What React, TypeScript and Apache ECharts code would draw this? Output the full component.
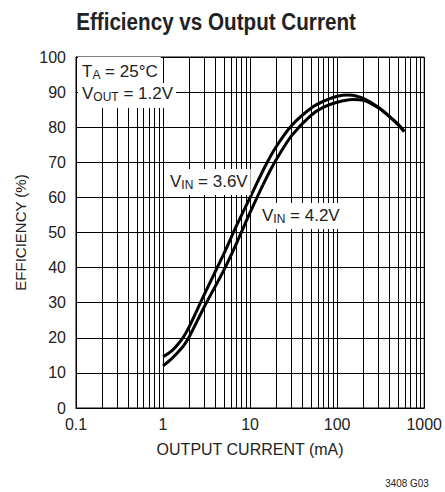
import React, { useEffect, useRef } from "react";
import * as echarts from "echarts";

const xTickLabels = ["0.1", "1", "10", "100", "1000"];
const yTicks = [0, 10, 20, 30, 40, 50, 60, 70, 80, 90, 100];

// VIN = 3.6V
const current36 = [1, 1.25, 1.5, 1.75, 2, 3, 5, 7, 10, 15, 20, 30, 50, 70, 100, 130, 150, 200, 300, 400, 500, 590];
const eff36 = [14.6, 16.2, 18.3, 20.6, 23.2, 32.5, 44, 52, 60, 69, 74.5, 80.5, 85.4, 87.4, 88.8, 89.2, 89.1, 88.2, 85.6, 83.0, 80.8, 78.8];

// VIN = 4.2V
const current42 = [1, 1.25, 1.5, 1.75, 2, 3, 5, 7, 10, 15, 20, 30, 50, 70, 100, 150, 200, 300, 400, 500, 590];
const eff42 = [12, 14.0, 16.0, 18.0, 20.3, 29.0, 39.3, 47, 55.7, 65, 70.8, 77.6, 83.4, 85.7, 87.1, 87.9, 87.7, 85.5, 83.0, 80.8, 78.8];

// minor vertical grid positions (log decades)
const decades = [0.1, 1, 10, 100];
const minorMultipliers = [2, 3, 4, 5, 6, 7, 8, 9];

const FONT = "'Liberation Sans', Arial, sans-serif";
const INK = "#222";

export default function App() {
  const ref = useRef<HTMLDivElement>(null);
  useEffect(() => {
    if (!ref.current) return;
    const chart = echarts.init(ref.current, undefined, { renderer: "svg" });
    const minorLines: { xAxis: number }[] = [];
    decades.forEach((d) => minorMultipliers.forEach((m) => minorLines.push({ xAxis: +(d * m).toPrecision(3) })));

    const rich = {
      m: { fontSize: 17, fontFamily: FONT, lineHeight: 20, fill: INK },
      s: { fontSize: 12, fontFamily: FONT, lineHeight: 10, verticalAlign: "bottom", fill: INK },
    };
    const boxText = (x: number, y: number, text: string, padding: number[]) => ({
      type: "text",
      x,
      y,
      z: 100,
      style: { text, rich, backgroundColor: "#fff", padding, fill: INK },
    });

    chart.setOption({
      animation: false,
      backgroundColor: "#fff",
      grid: { left: 76, right: 17, top: 57, bottom: 84, show: true, borderColor: "#000", borderWidth: 1 },
      xAxis: {
        type: "log",
        logBase: 10,
        min: 0.1,
        max: 1000,
        name: "OUTPUT CURRENT (mA)",
        nameLocation: "middle",
        nameGap: 33,
        nameTextStyle: { fontFamily: FONT, fontSize: 16, color: INK },
        axisLine: { show: true, lineStyle: { color: "#000", width: 1 } },
        axisTick: { show: false },
        splitLine: { show: true, lineStyle: { color: "#000", width: 1 } },
        axisLabel: {
          fontFamily: FONT,
          fontSize: 16,
          color: INK,
          margin: 8,
          formatter: (v: number) => {
            const i = Math.round(Math.log10(v) + 1);
            return xTickLabels[i] ?? "";
          },
        },
      },
      yAxis: {
        type: "value",
        min: 0,
        max: 100,
        interval: 10,
        name: "EFFICIENCY (%)",
        nameLocation: "middle",
        nameGap: 46,
        nameTextStyle: { fontFamily: FONT, fontSize: 15, color: INK },
        axisLine: { show: true, lineStyle: { color: "#000", width: 1 } },
        axisTick: { show: false },
        splitLine: { show: true, lineStyle: { color: "#000", width: 1 } },
        axisLabel: {
          fontFamily: FONT,
          fontSize: 16,
          color: INK,
          margin: 10,
          formatter: (v: number) => (yTicks.includes(v) ? String(v) : ""),
        },
      },
      series: [
        {
          type: "line",
          name: "VIN = 3.6V",
          data: current36.map((c, i) => [c, eff36[i]]),
          smooth: 0.3,
          showSymbol: false,
          lineStyle: { color: "#000", width: 3 },
          z: 5,
          markLine: {
            silent: true,
            symbol: ["none", "none"],
            label: { show: false },
            lineStyle: { color: "#000", width: 1, type: "solid" },
            emphasis: { disabled: true },
            data: minorLines,
            z: 1,
          },
        },
        {
          type: "line",
          name: "VIN = 4.2V",
          data: current42.map((c, i) => [c, eff42[i]]),
          smooth: 0.3,
          showSymbol: false,
          lineStyle: { color: "#000", width: 3 },
          z: 5,
        },
      ],
      graphic: [
        {
          type: "text",
          x: 216,
          y: 22,
          scaleX: 0.86,
          style: {
            text: "Efficiency vs Output Current",
            font: `bold 24px ${FONT}`,
            fill: INK,
            textAlign: "center",
            textVerticalAlign: "middle",
          },
        },
        boxText(78, 57, "{m|T}{s|A}{m| = 25°C}", [4, 3, 2, 4]),
        boxText(78, 83, "{m|V}{s|OUT}{m| = 1.2V}", [0, 3, 5, 4]),
        boxText(167, 169, "{m|V}{s|IN}{m| = 3.6V}", [2, 3, 4, 3]),
        boxText(259, 203, "{m|V}{s|IN}{m| = 4.2V}", [2, 3, 4, 3]),
        {
          type: "text",
          x: 407,
          y: 483,
          scaleX: 0.9,
          style: {
            text: "3408 G03",
            font: `11px ${FONT}`,
            fill: INK,
            textAlign: "center",
            textVerticalAlign: "middle",
          },
        },
      ],
    });
    return () => chart.dispose();
  }, []);
  return <div ref={ref} style={{ width: 445, height: 492, position: "absolute", left: 0, top: 0 }} />;
}
